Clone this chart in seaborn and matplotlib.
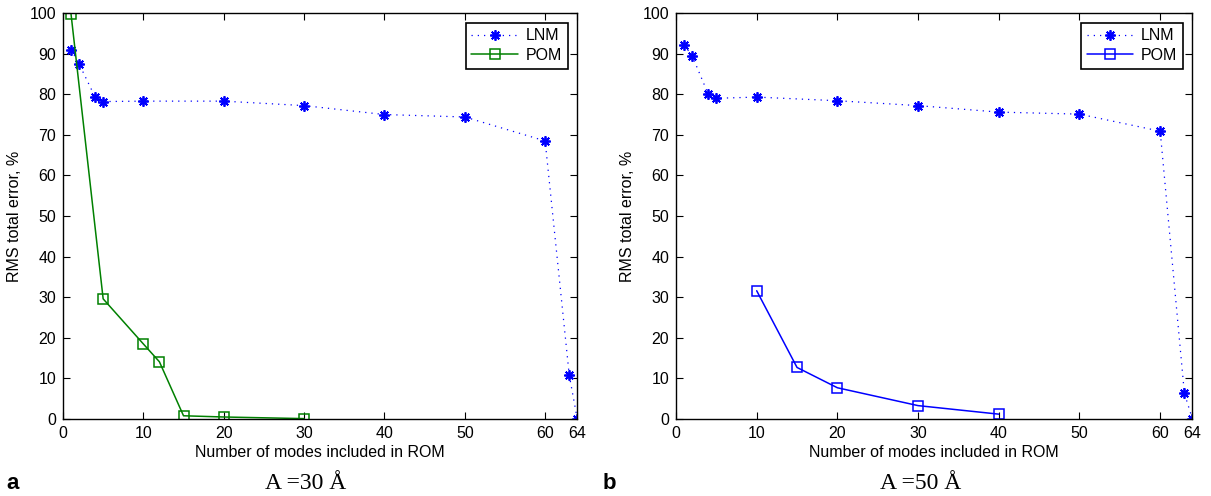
import matplotlib
matplotlib.use("Agg")
import matplotlib.pyplot as plt
import seaborn as sns
import numpy as np

sns.set_theme(style="white")
plt.rcParams['font.family'] = ['Liberation Sans', 'DejaVu Sans']
plt.rcParams['text.color'] = 'black'
plt.rcParams['axes.labelcolor'] = 'black'
plt.rcParams['xtick.color'] = 'black'
plt.rcParams['ytick.color'] = 'black'

# Panel a (A = 30 Å)
lnm_x_a = [1, 2, 4, 5, 10, 20, 30, 40, 50, 60, 63, 64]
lnm_y_a = [91.0, 87.5, 79.3, 78.2, 78.3, 78.3, 77.2, 75.0, 74.4, 68.5, 10.8, 0.0]
pom_x_a = [1, 5, 10, 12, 15, 20, 30]
pom_y_a = [99.8, 29.6, 18.5, 14.1, 0.8, 0.5, 0.1]

# Panel b (A = 50 Å)
lnm_x_b = [1, 2, 4, 5, 10, 20, 30, 40, 50, 60, 63, 64]
lnm_y_b = [92.2, 89.5, 80.0, 79.0, 79.3, 78.4, 77.2, 75.6, 75.1, 70.9, 6.3, 0.0]
pom_x_b = [10, 15, 20, 30, 40]
pom_y_b = [31.6, 12.7, 7.7, 3.3, 1.2]

xticks = [0, 10, 20, 30, 40, 50, 60, 64]
yticks = list(range(0, 101, 10))
panel_letters = ["a", "b"]
panel_titles = ["A =30 Å", "A =50 Å"]
pom_colors = ["#008000", "#0000ff"]

fig = plt.figure(figsize=(12.11, 4.96), dpi=100)
ax_a = fig.add_axes([0.0520, 0.1552, 0.4247, 0.8185])
ax_b = fig.add_axes([0.5582, 0.1552, 0.4265, 0.8185])

asterisk = (8, 2, 0)
panels = [
    (ax_a, lnm_x_a, lnm_y_a, pom_x_a, pom_y_a, pom_colors[0]),
    (ax_b, lnm_x_b, lnm_y_b, pom_x_b, pom_y_b, pom_colors[1]),
]
for i, (ax, lx, ly, px, py, pc) in enumerate(panels):
    sns.lineplot(x=lx, y=ly, ax=ax, color="#0000ff", linestyle=(0, (1, 4)), linewidth=0.9,
                 marker=asterisk, markersize=7.5, markeredgewidth=1.3,
                 markeredgecolor="#0000ff", label="LNM", sort=False)
    sns.lineplot(x=px, y=py, ax=ax, color=pc, linestyle="-", linewidth=1.1,
                 marker="s", markersize=6.5, markerfacecolor="none",
                 markeredgecolor=pc, markeredgewidth=1.1, label="POM", sort=False)
    ax.set_xlim(0, 64)
    ax.set_ylim(0, 100)
    ax.set_xticks(xticks)
    ax.set_yticks(yticks)
    ax.tick_params(direction="in", length=5, width=0.8, top=True, right=True,
                   bottom=True, left=True, labelsize=11.5, colors="black", pad=5)
    for s in ax.spines.values():
        s.set_visible(True)
        s.set_color("black")
        s.set_linewidth(1.0)
    ax.set_xlabel("Number of modes included in ROM", fontsize=11.5, labelpad=3, color="black")
    ax.set_ylabel("RMS total error, %", fontsize=11.5, labelpad=5, color="black")
    leg = ax.legend(loc="upper right", fontsize=11.5, frameon=True, fancybox=False,
                    edgecolor="black", framealpha=1, handlelength=2.9,
                    borderaxespad=0.6, borderpad=0.35, labelspacing=0.3,
                    handletextpad=0.5, labelcolor="black")
    leg.get_frame().set_linewidth(1.2)
    ax.grid(False)
    ax.set_facecolor("white")

serif = ["Liberation Serif", "DejaVu Serif"]
fig.text(0.005, 0.014, panel_letters[0], fontsize=16, fontweight="bold", ha="left", va="baseline", color="black")
fig.text(0.498, 0.014, panel_letters[1], fontsize=16, fontweight="bold", ha="left", va="baseline", color="black")
fig.text(0.252, 0.014, panel_titles[0], fontsize=17, family=serif, ha="center", va="baseline", color="black")
fig.text(0.760, 0.014, panel_titles[1], fontsize=17, family=serif, ha="center", va="baseline", color="black")

fig.savefig("out.png", dpi=100, facecolor="white")
